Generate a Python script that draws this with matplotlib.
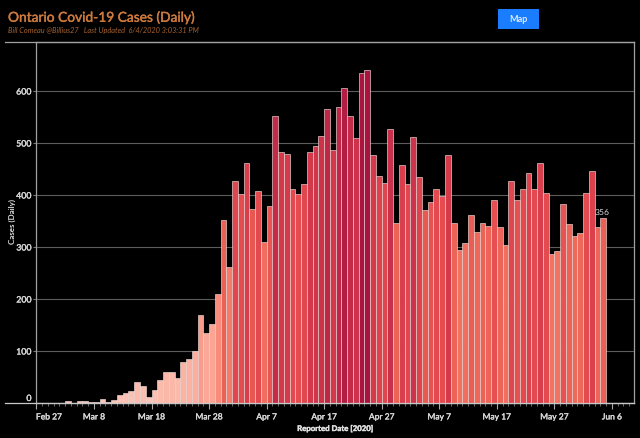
import matplotlib
matplotlib.use("Agg")
import matplotlib.pyplot as plt
import matplotlib.dates as mdates
import matplotlib.patheffects as pe
from matplotlib.colors import LinearSegmentedColormap, Normalize
from matplotlib.lines import Line2D
from matplotlib.patches import Rectangle
from matplotlib.transforms import ScaledTranslation
import numpy as np
import datetime as dt

plt.rcParams['font.family'] = ['Lato', 'DejaVu Sans']

start_date = dt.date(2020, 2, 27)
cases = [0, 0, 0, 0, 0, 3, 0, 3, 4, 2, 1, 7, 1, 6, 16, 20, 24, 41, 32, 12,
         25, 44, 60, 59, 49, 78, 85, 100, 170, 134, 152, 210, 351, 261, 426, 401, 461, 374, 408, 309,
         378, 551, 483, 478, 411, 401, 421, 483, 495, 513, 565, 486, 569, 606, 551, 510, 635, 640, 476, 436,
         424, 526, 346, 458, 421, 511, 434, 371, 387, 412, 399, 477, 346, 294, 307, 361, 328, 346, 340, 390,
         339, 303, 427, 390, 412, 442, 412, 461, 403, 287, 292, 383, 344, 322, 326, 403, 446, 338, 356]
major_dates = [dt.date(2020, 2, 27), dt.date(2020, 3, 8), dt.date(2020, 3, 18), dt.date(2020, 3, 28),
               dt.date(2020, 4, 7), dt.date(2020, 4, 17), dt.date(2020, 4, 27), dt.date(2020, 5, 7),
               dt.date(2020, 5, 17), dt.date(2020, 5, 27), dt.date(2020, 6, 6)]
major_labels = ["Feb 27", "Mar 8", "Mar 18", "Mar 28", "Apr 7", "Apr 17", "Apr 27", "May 7", "May 17", "May 27", "Jun 6"]
y_ticks = [0, 100, 200, 300, 400, 500, 600]

W, H = 640, 438
fig = plt.figure(figsize=(W / 100, H / 100), dpi=100, facecolor="black")
left, right, top, bottom = 36.4, 634, 42, 403
ax = fig.add_axes([left / W, 1 - bottom / H, (right - left) / W, (bottom - top) / H], facecolor="black")

stops = [(0, "#fbc6b9"), (100, "#fbae9e"), (150, "#fba595"), (210, "#f78c7c"), (300, "#f0705f"),
         (350, "#ec6256"), (400, "#e54c50"), (477, "#d53a4b"), (550, "#c42c48"), (640, "#a91340")]
cmap = LinearSegmentedColormap.from_list("reds", [(v / 640, c) for v, c in stops])
norm = Normalize(0, 640)
dates = [start_date + dt.timedelta(days=i) for i in range(len(cases))]
xs = mdates.date2num(dates)
ax.bar(xs, cases, width=1.0, align="edge", color=cmap(norm(np.array(cases))),
       edgecolor="#efdcd8", linewidth=0.45, zorder=3)

x0 = mdates.date2num(start_date)
ax.set_xlim(x0, x0 + (right - left) / 5.755)
ax.set_ylim(0, (bottom - top) / 0.52)

ax.set_yticks(y_ticks)
ax.set_yticklabels([str(v) for v in y_ticks])
ax.grid(axis="y", color="#5c5c5c", linewidth=0.8, zorder=0)
ax.set_xticks(mdates.date2num(major_dates))
ax.set_xticklabels(major_labels)
ax.set_xticks(np.arange(x0, x0 + 104), minor=True)
ax.tick_params(axis="x", which="major", length=4, color="#aaaaaa", labelcolor="#d8d8d8", labelsize=6.1, pad=3.5, width=0.8)
ax.tick_params(axis="x", which="minor", length=2, color="#999999", width=0.5)
ax.tick_params(axis="y", length=2, color="#777777", width=0.8, labelcolor="#d8d8d8", labelsize=6.3, pad=1.5)
stroke = [pe.withStroke(linewidth=0.25, foreground="#d8d8d8")]
for lab in ax.get_xticklabels() + ax.get_yticklabels():
    lab.set_path_effects(stroke)
first_x = ax.get_xticklabels()[0]
first_x.set_transform(first_x.get_transform() + ScaledTranslation(12.5 / 100, 0, fig.dpi_scale_trans))
first_y = ax.get_yticklabels()[0]
first_y.set_transform(first_y.get_transform() + ScaledTranslation(0, 5.5 / 100, fig.dpi_scale_trans))
for name, s in ax.spines.items():
    s.set_color("#a0a0a0")
    s.set_linewidth(0.9)

# top and bottom rules run past the value axis to the left edge of the chart
for y_px, col in [(top, "#a0a0a0"), (bottom, "#c8c8c8")]:
    fig.add_artist(Line2D([5 / W, right / W], [1 - y_px / H, 1 - y_px / H], color=col, linewidth=0.9,
                          transform=fig.transFigure, zorder=6))

ax.annotate("356", (xs[-1] + 0.5, cases[-1]), xytext=(-1, 1), textcoords="offset points", ha="center", va="bottom",
            color="#dddddd", fontsize=6.1, zorder=5)

fig.text(8 / W, 1 - 17.5 / H, "Ontario Covid-19 Cases (Daily)", color="#cc7a3e", fontsize=9.9, va="center", ha="left",
         path_effects=[pe.withStroke(linewidth=0.3, foreground="#cc7a3e")])
fig.text(8 / W, 1 - 31 / H, "Bill Comeau @Billius27   Last Updated  6/4/2020 3:03:31 PM", color="#a8622f",
         fontsize=5.3, style="italic", va="center", ha="left")
fig.text(335 / W, 1 - 428.5 / H, "Reported Date [2020]", color="#e0e0e0", fontsize=5.6, fontweight="bold", ha="center", va="center",
         path_effects=[pe.withStroke(linewidth=0.3, foreground="#e0e0e0")])
fig.text(12.5 / W, 1 - 222 / H, "Cases (Daily)", color="#e0e0e0", fontsize=5.8, fontweight="bold", rotation=90, ha="center", va="center")

fig.add_artist(Rectangle((498 / W, 1 - 29 / H), 41 / W, 20 / H, transform=fig.transFigure, facecolor="#1a7dff", edgecolor="none"))
fig.text(518.5 / W, 1 - 19.5 / H, "Map", color="#dcebff", fontsize=6.5, fontweight="bold", ha="center", va="center")

fig.savefig("out.png", dpi=100, facecolor="black")
